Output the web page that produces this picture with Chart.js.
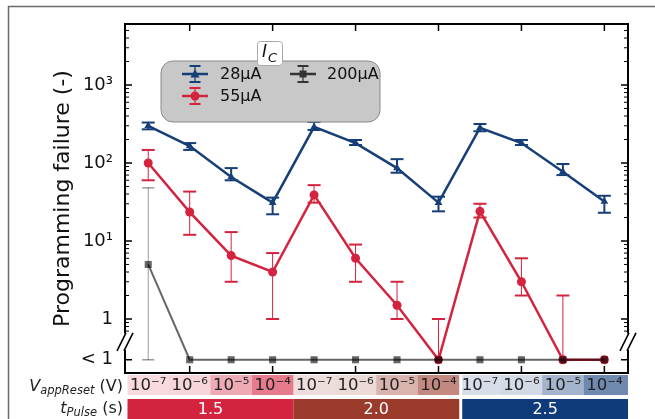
<!DOCTYPE html>
<html><head><meta charset="utf-8">
<script src="https://cdn.jsdelivr.net/npm/chart.js@4.4.1/dist/chart.umd.min.js"></script>
<style>html,body{margin:0;padding:0;background:#fff;overflow:hidden}#wrap{position:relative;width:655px;height:419px}</style>
</head><body><div id="wrap"><canvas id="c" width="655" height="419"></canvas></div>
<script>
// ---------- data ----------
const V_APP_RESET = ['10⁻⁷','10⁻⁶','10⁻⁵','10⁻⁴','10⁻⁷','10⁻⁶','10⁻⁵','10⁻⁴','10⁻⁷','10⁻⁶','10⁻⁵','10⁻⁴'];
const T_PULSE = ['1.5','2.0','2.5'];
const LT1 = 0.3; // plotting position of the "< 1" row
const IC28    = [300, 165, 66, 31, 290, 180, 86, 31, 282, 180, 77, 32];
const IC28_HI = [330, 180, 86, 36, 336, 197, 112, 37, 316, 197, 97, 38];
const IC28_LO = [270, 147, 60, 22, 265, 170, 75, 24, 255, 170, 70, 23];
const IC55    = [100, 23.5, 6.5, 4, 39, 6, 1.5, LT1, 24, 3, LT1, LT1];
const IC55_HI = [147, 43, 13, 7, 52, 9, 3, 1, 30, 6, 2, null];
const IC55_LO = [60, 12, 3, 1, 31, 3, 1, null, 20, 2, null, null];
const IC200    = [5, LT1, LT1, LT1, LT1, LT1, LT1, LT1, LT1, LT1, LT1, LT1];
const IC200_HI = [48, null, null, null, null, null, null, null, null, null, null, null];
const IC200_LO = [LT1, null, null, null, null, null, null, null, null, null, null, null];
const Y_TICKS  = [LT1, 1, 10, 100, 1000];
const Y_LABELS = ['< 1', '1', '10¹', '10²', '10³'];
const SERIES_NAMES = ['28µA', '55µA', '200µA'];

// ---------- styles ----------
const NAVY = '#163f78', RED = '#d3233f', BROWN = '#9b3b2c', NAVY2 = '#0f3b7a';
const GROUP_COLORS = [RED, BROWN, NAVY2];
const CELL_ALPHA = [0.17, 0.19, 0.38, 0.6];
const GRAY = 'rgba(0,0,0,0.6)';
const FONT = '"DejaVu Sans", sans-serif';
const BREAK_HI = 0.65, BREAK_LO = 0.4;

function pts(arr) { return arr.map((v, i) => ({x: i, y: v})); }
function hexA(hex, a) {
  const r = parseInt(hex.slice(1,3),16), g = parseInt(hex.slice(3,5),16), b = parseInt(hex.slice(5,7),16);
  return `rgba(${r},${g},${b},${a})`;
}
function rr(ctx, x, y, w, h, r) {
  ctx.beginPath();
  ctx.moveTo(x + r, y); ctx.lineTo(x + w - r, y); ctx.arcTo(x + w, y, x + w, y + r, r);
  ctx.lineTo(x + w, y + h - r); ctx.arcTo(x + w, y + h, x + w - r, y + h, r);
  ctx.lineTo(x + r, y + h); ctx.arcTo(x, y + h, x, y + h - r, r);
  ctx.lineTo(x, y + r); ctx.arcTo(x, y, x + r, y, r); ctx.closePath();
}
function marker(ctx, style, cx, cy, color) {
  ctx.fillStyle = color;
  ctx.beginPath();
  if (style === 'circle') ctx.arc(cx, cy, 4.5, 0, Math.PI * 2);
  else if (style === 'triangle') { ctx.moveTo(cx, cy - 5); ctx.lineTo(cx + 4.5, cy + 3.5); ctx.lineTo(cx - 4.5, cy + 3.5); ctx.closePath(); }
  else ctx.rect(cx - 3.5, cy - 3.5, 7, 7);
  ctx.fill();
}
function capLine(ctx, x, y, w) { ctx.beginPath(); ctx.moveTo(x - w / 2, y); ctx.lineTo(x + w / 2, y); ctx.stroke(); }

const decor = {
  id: 'decor',
  beforeDraw(chart) {
    const {ctx, chartArea: a, scales: {x}} = chart;
    ctx.save();
    // outer frame
    ctx.strokeStyle = '#6a6a6a'; ctx.lineWidth = 1.5;
    ctx.beginPath(); ctx.moveTo(8.5, 419); ctx.lineTo(8.5, 6.5); ctx.lineTo(655, 6.5); ctx.stroke();
    // row 1 cells and row 2 groups
    for (let g = 0; g < 3; g++) {
      for (let k = 0; k < 4; k++) {
        const i = g * 4 + k;
        let x0 = x.getPixelForValue(i - 0.5), x1 = x.getPixelForValue(i + 0.5);
        if (g === 2 && k === 0) x0 += 3;
        if (i === 11) x1 = a.right;
        ctx.fillStyle = hexA(GROUP_COLORS[g], CELL_ALPHA[k]);
        ctx.fillRect(x0, 375, x1 - x0, 20);
      }
      let gx0 = x.getPixelForValue(g * 4 - 0.5), gx1 = x.getPixelForValue(g * 4 + 3.5);
      if (g === 2) { gx0 += 3; gx1 = a.right; }
      ctx.fillStyle = GROUP_COLORS[g];
      ctx.fillRect(gx0, 399, gx1 - gx0, 20);
      ctx.fillStyle = '#fff'; ctx.font = '16px ' + FONT; ctx.textAlign = 'center'; ctx.textBaseline = 'alphabetic';
      ctx.fillText(T_PULSE[g], (gx0 + gx1) / 2, 414);
    }
    // row labels
    const drawLabel = (parts, right, base) => {
      let w = 0;
      parts.forEach(p => { ctx.font = p.f; w += ctx.measureText(p.t).width; });
      let cx = right - w;
      ctx.fillStyle = '#222'; ctx.textAlign = 'left'; ctx.textBaseline = 'alphabetic';
      parts.forEach(p => { ctx.font = p.f; ctx.fillText(p.t, cx, base + (p.dy || 0)); cx += ctx.measureText(p.t).width; });
    };
    drawLabel([{t:'V', f:'italic 16px ' + FONT}, {t:'appReset', f:'italic 11.5px ' + FONT, dy:3}, {t:' (V)', f:'16px ' + FONT}], 123, 391);
    drawLabel([{t:'t', f:'italic 16px ' + FONT}, {t:'Pulse', f:'italic 11.5px ' + FONT, dy:3}, {t:' (s)', f:'16px ' + FONT}], 123, 413);
    ctx.restore();
  },
  beforeDatasetDraw(chart, args) {
    const ds = chart.data.datasets[args.index];
    const {ctx, scales: {x, y}} = chart;
    const e = ds.err;
    ctx.save();
    ctx.strokeStyle = e.color;
    ds.data.forEach((p, i) => {
      const hi = ds.errHi[i], lo = ds.errLo[i];
      if (hi == null && lo == null) return;
      const px = x.getPixelForValue(i);
      const yT = y.getPixelForValue(hi != null ? hi : p.y);
      const yB = y.getPixelForValue(lo != null ? lo : p.y);
      ctx.lineWidth = e.lw;
      ctx.beginPath(); ctx.moveTo(px, yT); ctx.lineTo(px, yB); ctx.stroke();
      ctx.lineWidth = e.capLw;
      if (hi != null) capLine(ctx, px, yT, e.capW);
      if (lo != null) capLine(ctx, px, yB, e.capW);
    });
    ctx.restore();
  },
  afterDraw(chart) {
    const {ctx, chartArea: a, scales: {x, y}} = chart;
    ctx.save();
    const yBh = y.getPixelForValue(BREAK_HI), yBl = y.getPixelForValue(BREAK_LO);
    ctx.strokeStyle = '#000'; ctx.lineCap = 'butt';
    // spines
    ctx.lineWidth = 2;
    ctx.beginPath();
    ctx.moveTo(a.left - 1, a.top); ctx.lineTo(a.right + 1, a.top);
    ctx.moveTo(a.left - 1, a.bottom); ctx.lineTo(a.right + 1, a.bottom);
    [a.left, a.right].forEach(sx => { ctx.moveTo(sx, a.top); ctx.lineTo(sx, yBh); ctx.moveTo(sx, yBl); ctx.lineTo(sx, a.bottom); });
    ctx.stroke();
    // y major ticks
    ctx.lineWidth = 1.5;
    ctx.beginPath();
    Y_TICKS.forEach(v => { const py = y.getPixelForValue(v); ctx.moveTo(a.left, py); ctx.lineTo(a.left + 7, py); ctx.moveTo(a.right, py); ctx.lineTo(a.right - 7, py); });
    // x ticks (every other category)
    for (let i = 1; i < 12; i += 2) { const px = x.getPixelForValue(i); ctx.moveTo(px, a.top); ctx.lineTo(px, a.top + 7); ctx.moveTo(px, a.bottom); ctx.lineTo(px, a.bottom - 7); }
    ctx.stroke();
    // y minor ticks
    ctx.lineWidth = 1;
    ctx.beginPath();
    for (let k = -1; k <= 3; k++) for (let m = 2; m <= 9; m++) {
      const v = m * Math.pow(10, k);
      if (v < BREAK_HI || v > y.max) continue;
      const py = y.getPixelForValue(v);
      ctx.moveTo(a.left, py); ctx.lineTo(a.left + 4, py); ctx.moveTo(a.right, py); ctx.lineTo(a.right - 4, py);
    }
    ctx.stroke();
    // break marks "//"
    const ym = (yBh + yBl) / 2;
    ctx.lineWidth = 1.6;
    ctx.beginPath();
    [a.left, a.right].forEach(sx => {
      [-3.5, 3.5].forEach(o => { ctx.moveTo(sx + o - 4.5, ym + 9); ctx.lineTo(sx + o + 4.5, ym - 9); });
    });
    ctx.stroke();
    // legend
    rr(ctx, 161, 61, 219, 61, 12);
    ctx.fillStyle = 'rgba(190,190,190,0.85)'; ctx.fill();
    ctx.strokeStyle = '#8a8a8a'; ctx.lineWidth = 1; ctx.stroke();
    rr(ctx, 257.5, 41.5, 25, 24, 3);
    ctx.fillStyle = '#fff'; ctx.fill(); ctx.strokeStyle = '#aaa'; ctx.stroke();
    ctx.fillStyle = '#111'; ctx.textAlign = 'left'; ctx.textBaseline = 'alphabetic';
    ctx.font = 'italic 17px ' + FONT; ctx.fillText('I', 262, 57);
    ctx.font = 'italic 13px ' + FONT; ctx.fillText('C', 268, 62);
    const entries = [
      {name: SERIES_NAMES[0], color: NAVY, style: 'triangle', cx: 195, cy: 74, tx: 220},
      {name: SERIES_NAMES[1], color: RED, style: 'circle', cx: 195, cy: 96, tx: 220},
      {name: SERIES_NAMES[2], color: '#333', style: 'rect', cx: 303, cy: 74, tx: 327}
    ];
    entries.forEach(en => {
      ctx.strokeStyle = en.color;
      ctx.lineWidth = 2.5;
      ctx.beginPath(); ctx.moveTo(en.cx - 13, en.cy); ctx.lineTo(en.cx + 13, en.cy); ctx.stroke();
      ctx.lineWidth = 1.2;
      ctx.beginPath(); ctx.moveTo(en.cx, en.cy - 8); ctx.lineTo(en.cx, en.cy + 8); ctx.stroke();
      ctx.lineWidth = 2;
      capLine(ctx, en.cx, en.cy - 8, 11); capLine(ctx, en.cx, en.cy + 8, 11);
      marker(ctx, en.style, en.cx, en.cy, en.color);
      ctx.fillStyle = '#111'; ctx.font = '16px ' + FONT; ctx.textBaseline = 'middle';
      ctx.fillText(en.name, en.tx, en.cy + 1);
    });
    ctx.restore();
  }
};

Chart.defaults.font.family = FONT;
Chart.defaults.color = '#111';

new Chart(document.getElementById('c'), {
  type: 'line',
  data: {
    datasets: [
      {label: SERIES_NAMES[2], data: pts(IC200), errHi: IC200_HI, errLo: IC200_LO,
       err: {color: 'rgba(0,0,0,0.4)', lw: 1, capW: 12, capLw: 1.5},
       borderColor: GRAY, backgroundColor: GRAY, borderWidth: 2, pointStyle: 'rect', pointRadius: 5, pointBorderWidth: 0},
      {label: SERIES_NAMES[1], data: pts(IC55), errHi: IC55_HI, errLo: IC55_LO,
       err: {color: RED, lw: 1, capW: 13, capLw: 2},
       borderColor: RED, backgroundColor: RED, borderWidth: 2.5, pointStyle: 'circle', pointRadius: 4.5, pointBorderWidth: 0},
      {label: SERIES_NAMES[0], data: pts(IC28), errHi: IC28_HI, errLo: IC28_LO,
       err: {color: NAVY, lw: 2, capW: 13, capLw: 2},
       borderColor: NAVY, backgroundColor: NAVY, borderWidth: 2.5, pointStyle: 'triangle', pointRadius: 4.5, pointBorderWidth: 0}
    ]
  },
  options: {
    responsive: false, animation: false, events: [],
    layout: {padding: {left: 0, top: 24, right: 27, bottom: 0}},
    plugins: {legend: {display: false}, tooltip: {enabled: false}},
    scales: {
      x: {type: 'linear', min: -0.56, max: 11.57,
          afterBuildTicks: s => { s.ticks = V_APP_RESET.map((_, i) => ({value: i})); },
          afterFit: s => { s.height = 46; },
          grid: {display: false, drawTicks: false}, border: {display: false},
          ticks: {autoSkip: false, maxRotation: 0, padding: 3, font: {size: 16.5}, color: '#222',
                  callback: (v, i) => V_APP_RESET[i]}},
      y: {type: 'logarithmic', min: 0.203, max: 6053,
          afterBuildTicks: s => { s.ticks = Y_TICKS.map(v => ({value: v})); },
          afterFit: s => { s.width = 125; },
          grid: {display: false, drawTicks: false}, border: {display: false},
          ticks: {autoSkip: false, padding: 12, font: {size: 18}, color: '#111',
                  callback: (v, i) => Y_LABELS[i]},
          title: {display: true, text: 'Programming failure (-)', font: {size: 22}, color: '#111', padding: {top: 50, bottom: 0}}}
    }
  },
  plugins: [decor]
});
</script></body></html>
